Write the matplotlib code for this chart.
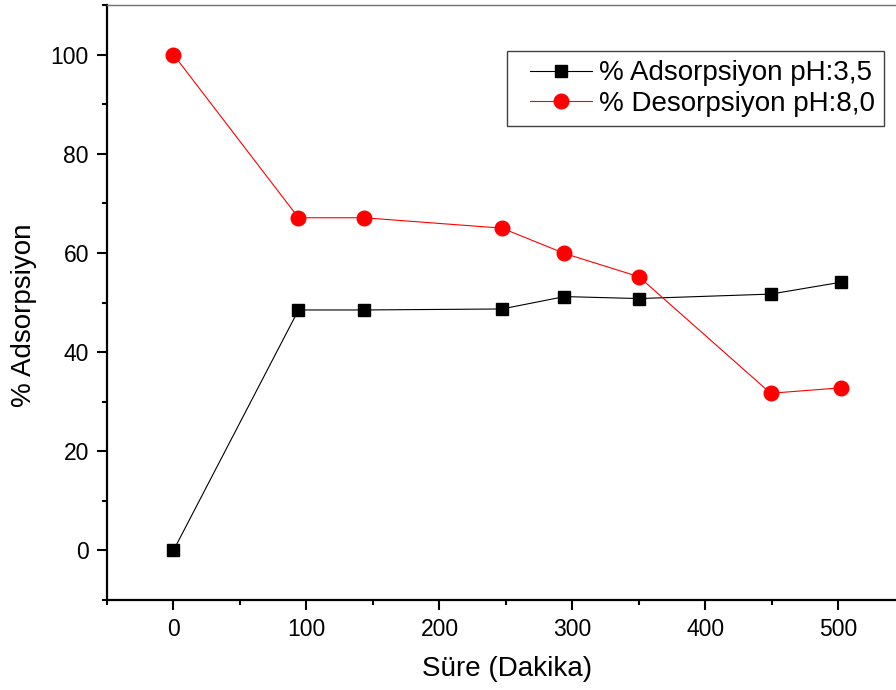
import matplotlib.pyplot as plt
from matplotlib.ticker import MultipleLocator
from matplotlib.legend_handler import HandlerLine2D

plt.rcParams['font.family'] = ['Liberation Sans', 'DejaVu Sans']

# Veriler
sure = [0, 94, 143, 247, 294, 350, 449, 502]
adsorpsiyon = [0, 48.5, 48.5, 48.7, 51.2, 50.8, 51.7, 54.1]
desorpsiyon = [100, 67.1, 67.1, 65.0, 59.9, 55.2, 31.7, 32.8]
etiketler = ['% Adsorpsiyon pH:3,5', '% Desorpsiyon pH:8,0']

fig = plt.figure(figsize=(8.96, 6.9), dpi=100)
# eksen sağ kenarı figürün hemen dışında (orijinalde kırpılmış)
ax = fig.add_axes([0.1194, 0.1304, 0.8906, 0.8623])

l1, = ax.plot(sure, adsorpsiyon, color='black', lw=0.8, marker='s', ms=9,
              label=etiketler[0])
l2, = ax.plot(sure, desorpsiyon, color='red', lw=0.8, marker='o', ms=10.5,
              label=etiketler[1])

ax.set_xlim(-50, 550)
ax.set_ylim(-10, 110)
ax.xaxis.set_major_locator(MultipleLocator(100))
ax.xaxis.set_minor_locator(MultipleLocator(50))
ax.yaxis.set_major_locator(MultipleLocator(20))
ax.yaxis.set_minor_locator(MultipleLocator(10))

ax.tick_params(which='major', direction='out', length=7, width=1.5,
               labelsize=16.5, pad=6)
ax.tick_params(which='minor', direction='out', length=3.5, width=1.5)

for s in ('left', 'bottom'):
    ax.spines[s].set_linewidth(1.6)
ax.spines['top'].set_linewidth(1.0)
ax.spines['top'].set_color('#707070')
ax.spines['right'].set_visible(False)

ax.set_xlabel('Süre (Dakika)', fontsize=20)
ax.xaxis.set_label_coords(0.501, -0.094)
ax.set_ylabel('% Adsorpsiyon', fontsize=20)
ax.yaxis.set_label_coords(-0.0877, 0.479)

# legend: çizgi kutunun solundan biraz içeride başlıyor
hm = {l1: HandlerLine2D(xpad=0.51), l2: HandlerLine2D(xpad=0.51)}
leg = ax.legend(loc='upper left', bbox_to_anchor=(0.501, 0.922),
                handler_map=hm,
                fontsize=20, frameon=True, fancybox=False, framealpha=1,
                edgecolor='#404040', handlelength=2.74, handletextpad=0.25,
                borderpad=0.32, labelspacing=0.16, borderaxespad=0)
leg.get_frame().set_linewidth(1.0)

fig.savefig('out.png', dpi=100)
